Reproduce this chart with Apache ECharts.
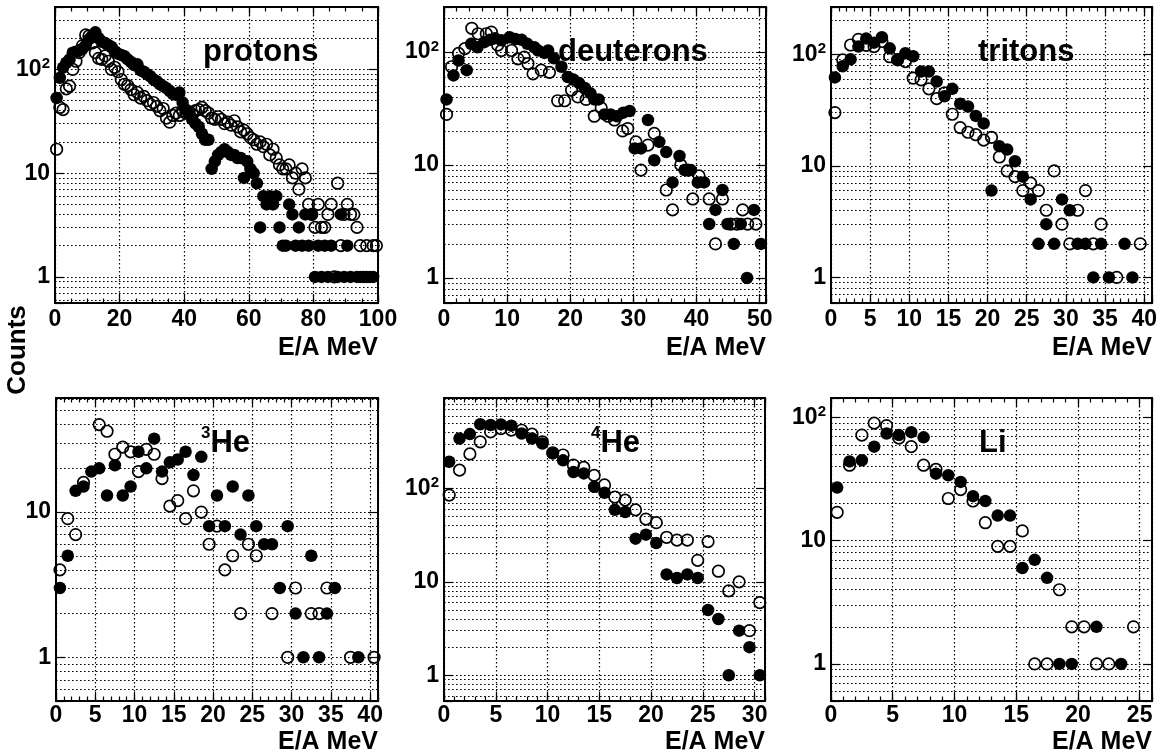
<!DOCTYPE html>
<html><head><meta charset="utf-8">
<script src="https://cdn.jsdelivr.net/npm/echarts@6/dist/echarts.min.js"></script>
<style>html,body{margin:0;padding:0;background:#fff}#c{width:1165px;height:754px}</style>
</head><body><div id="c"></div><script>
// ---------------- DATA (E/A MeV, Counts) ----------------
const protonsFilled = [[0.5,53],[1.5,83],[2.5,104],[3.5,116],[4.5,125],[5.5,145],[6.5,148],[7.5,152],[8.5,158],[9.5,170],[10.5,195],[11.5,210],[12.5,228],[13.5,200],[14.5,185],[15.5,180],[16.5,172],[17.5,165],[18.5,150],[19.5,142],[20.5,138],[21.5,134],[22.5,125],[23.5,118],[24.5,110],[25.5,112],[26.5,98],[27.5,95],[28.5,90],[29.5,86],[30.5,80],[31.5,77],[32.5,72],[33.5,69],[34.5,66],[35.5,62],[36.5,58],[37.5,57],[38.5,60],[39.5,48],[40.5,41],[41.5,38],[42.5,33],[43.5,30],[44.5,28],[45.5,24],[46.5,21],[47.5,21],[48.5,11],[49.5,13],[50.5,15],[51.5,16],[52.5,17],[53.5,16],[54.5,15],[55.5,15],[56.5,14],[57.5,14],[58.5,9],[59.5,13],[60.5,11],[61.5,10],[62.5,8],[63.5,3],[64.5,6],[65.5,5],[66.5,6],[67.5,5],[68.5,6],[69.5,3],[70.5,2],[71.5,2],[72.5,5],[73.5,4],[74.5,2],[75.5,3],[76.5,2],[77.5,4],[78.5,2],[79.5,4],[80.5,1],[81.5,2],[82.5,1],[83.5,2],[84.5,1],[85.5,2],[87.5,1],[88.5,4],[89.5,1],[90.5,2],[91.5,1],[93.5,1],[94.5,1],[95.5,1],[96.5,1],[97.5,1],[98.5,1]];
const protonsOpen = [[0.5,17],[1.5,43],[2.5,41],[3.5,65],[4.5,69],[5.5,100],[6.5,120],[7.5,145],[8.5,170],[9.5,215],[10.5,210],[11.5,180],[12.5,145],[13.5,128],[14.5,125],[15.5,135],[16.5,120],[17.5,100],[18.5,105],[19.5,95],[20.5,80],[21.5,72],[22.5,70],[23.5,64],[24.5,57],[25.5,60],[26.5,53],[27.5,55],[28.5,50],[29.5,46],[30.5,48],[31.5,44],[32.5,40],[33.5,42],[34.5,34],[35.5,31],[36.5,36],[37.5,38],[38.5,36],[39.5,40],[40.5,38],[41.5,39],[42.5,37],[43.5,40],[44.5,41],[45.5,43],[46.5,40],[47.5,38],[48.5,34],[49.5,33],[50.5,35],[51.5,33],[52.5,30],[53.5,31],[54.5,29],[55.5,32],[56.5,28],[57.5,25],[58.5,26],[59.5,24],[60.5,22],[61.5,21],[62.5,19],[63.5,20],[64.5,18],[65.5,19],[66.5,15],[67.5,17],[68.5,14],[69.5,12],[70.5,11],[71.5,11],[72.5,12],[73.5,9],[74.5,10],[75.5,7],[76.5,11],[77.5,9],[78.5,5],[79.5,4],[80.5,3],[81.5,5],[82.5,3],[83.5,3],[84.5,4],[85.5,5],[86.5,1],[87.5,8],[88.5,2],[89.5,4],[90.5,5],[91.5,4],[92.5,4],[93.5,3],[94.5,2],[96.5,2],[98.5,2],[99.5,2]];

const deuteronsFilled = [[0.4,38],[1.5,62],[2.3,84],[3.6,69],[4.3,118],[5.3,110],[6.4,122],[7.3,128],[8.1,132],[9.1,127],[10.4,135],[11.3,130],[12.3,128],[13.2,118],[14.3,110],[14.9,103],[15.9,98],[16.5,103],[17.4,88],[18.6,74],[19.6,60],[20.5,57],[21.4,53],[22.3,48],[23.2,43],[23.8,38],[24.5,38],[25.4,28],[26.4,28],[27.4,27],[28.4,29],[29.4,30],[30.2,14],[31.2,14],[32.3,25],[33.3,11],[34.1,16],[35.2,13],[36.2,7],[37.3,12],[38.1,9],[39.1,9],[40.2,7],[41.2,7],[42,3],[43,4],[44.1,6],[44.9,3],[45.9,2],[47,3],[48,1],[49.1,4],[50.2,2]];
const deuteronsOpen = [[0.4,28],[1.2,74],[2.3,97],[3.3,107],[4.4,162],[5.4,145],[6.7,145],[7.5,150],[8.5,115],[9.1,103],[10.7,103],[11.7,87],[12.7,90],[13.3,79],[14.1,64],[15.4,69],[16.7,66],[18,37],[19.1,37],[20.2,46],[21.2,40],[22.5,38],[23.8,27],[24.9,32],[26,27],[27,25],[28.3,20],[29.1,21],[30.4,16],[31.2,9],[32.3,15],[33.3,19],[35.2,6],[36.2,4],[37.5,10],[38.6,9],[39.4,5],[40.4,8],[42,5],[43,2],[44.1,5],[45.4,3],[46.4,3],[47.3,4],[48.1,3],[49.4,3]];

const tritonsFilled = [[0.5,62],[1.5,78],[2.5,90],[3.5,117],[4.5,138],[5.5,127],[6.5,142],[7.5,113],[8.5,90],[9.5,102],[10.5,96],[11.5,70],[12.5,70],[13.5,57],[14.5,42],[15.5,49],[16.5,36],[17.5,34],[18.5,28],[19.5,24],[20.5,6],[21.5,15],[22.5,14],[23.5,11],[24.5,8],[25.5,5],[26.5,2],[27.5,3],[28.5,2],[29.5,5],[30.5,4],[31.5,2],[32.5,2],[33.5,1],[34.5,2],[35.5,1],[37.5,2],[38.5,1]];
const tritonsOpen = [[0.5,30],[1.5,89],[2.5,121],[3.5,136],[4.5,120],[5.5,117],[6.5,130],[7.5,95],[8.5,89],[9.5,86],[10.5,61],[11.5,59],[12.5,49],[13.5,40],[14.5,45],[15.5,29],[16.5,22],[17.5,20],[18.5,19],[19.5,17],[20.5,18],[21.5,12],[22.5,9],[23.5,8],[24.5,6],[25.5,7],[26.5,6],[27.5,4],[28.5,9],[29.5,3],[30.5,2],[31.5,4],[32.5,6],[33.5,2],[34.5,3],[36.5,1],[39.5,2]];

const he3Filled = [[0.5,3],[1.5,5],[2.5,14],[3.5,15],[4.5,19],[5.5,20],[6.5,13],[7.5,21],[8.5,13],[9.5,15],[10.5,26],[11.5,20],[12.5,32],[13.5,19],[14.5,22],[15.5,23],[16.5,26],[17.5,18],[18.5,24],[19.5,8],[20.5,13],[21.5,8],[22.5,15],[23.5,7],[24.5,13],[25.5,8],[26.5,6],[27.5,6],[28.5,3],[29.5,8],[30.5,2],[31.5,1],[32.5,5],[33.5,1],[34.5,2],[35.5,3],[38.5,1]];
const he3Open = [[0.5,4],[1.5,9],[2.5,7],[3.5,16],[5.5,40],[6.5,36],[7.5,25],[8.5,28],[9.5,26],[10.5,19],[11.5,27],[12.5,25],[13.5,17],[14.5,11],[15.5,12],[16.5,9],[17.5,14],[18.5,10],[19.5,6],[20.5,8],[21.5,4],[22.5,5],[23.5,2],[24.5,6],[25.5,5],[27.5,2],[29.5,1],[30.5,3],[32.5,2],[33.5,2],[34.5,3],[37.5,1],[40.5,1]];

const he4Filled = [[0.5,193],[1.5,343],[2.5,382],[3.5,487],[4.5,478],[5.5,485],[6.5,470],[7.5,388],[8.5,343],[9.5,303],[10.5,237],[11.5,200],[12.5,150],[13.5,145],[14.5,104],[15.5,90],[16.5,59],[17.5,56],[18.5,29],[19.5,32],[20.5,26],[21.5,12],[22.5,11],[23.5,12],[24.5,11],[25.5,5],[26.5,4],[27.5,1],[28.5,3],[29.5,2],[30.5,1]];
const he4Open = [[0.5,85],[1.5,157],[2.5,234],[3.5,316],[4.5,404],[5.5,438],[6.5,422],[7.5,420],[8.5,382],[9.5,316],[10.5,241],[11.5,228],[12.5,178],[13.5,168],[14.5,138],[15.5,109],[16.5,81],[17.5,75],[18.5,59],[19.5,47],[20.5,43],[21.5,30],[22.5,28],[23.5,28],[24.5,17],[25.5,27],[26.5,13],[27.5,8],[28.5,10],[29.5,3],[30.5,6]];

const liFilled = [[0.5,27],[1.5,44],[2.5,45],[3.5,58],[4.5,74],[5.5,72],[6.5,76],[7.5,69],[8.5,35],[9.5,34],[10.5,30],[11.5,23],[12.5,21],[13.5,16],[14.5,16],[15.5,6],[16.5,7],[17.5,5],[18.5,1],[19.5,1],[21.5,2],[23.5,1]];
const liOpen = [[0.5,17],[1.5,41],[2.5,72],[3.5,90],[4.5,86],[5.5,68],[6.5,58],[7.5,41],[8.5,38],[9.5,22],[10.5,26],[11.5,21],[12.5,14],[13.5,9],[14.5,9],[15.5,12],[16.5,1],[17.5,1],[18.5,4],[19.5,2],[20.5,2],[21.5,1],[22.5,1],[24.5,2]];

// axis ranges / tick steps
const xRanges = [100, 51, 41, 41, 31, 26];
const xMajorSteps = [20, 10, 5, 5, 5, 5];
const xMinorSteps = [5, 2, 1, 1, 1, 1];
const yRanges = [[0.56,400],[0.6,250],[0.59,265],[0.5,61],[0.53,930],[0.5,144]];
const xTitle = 'E/A MeV';
const yTitle = 'Counts';

// ---------------- LAYOUT ----------------
const FONT = '"Liberation Sans", Arial, Helvetica, sans-serif';
const boxes = [[55,7,323,296],[444,7,322,296],[831,7,321,296],[56,398,322,303],[444,398,321,303],[831,398,321,303]];
const labelMargins = [5,5,5,3,3,3];
const seriesPairs = [[protonsFilled,protonsOpen],[deuteronsFilled,deuteronsOpen],[tritonsFilled,tritonsOpen],[he3Filled,he3Open],[he4Filled,he4Open],[liFilled,liOpen]];

const dotted = {color:'#000', width:1.2, type:[1.6,2.4], opacity:1};
const tickStyle = {color:'#000', width:1.2};

function gridValues(lo, hi) {
  const out = [];
  for (let k = Math.floor(Math.log10(lo)); k <= Math.ceil(Math.log10(hi)); k++) {
    for (let m = 1; m <= 9; m++) {
      const v = m * Math.pow(10, k);
      if (v > lo * 1.0001 && v < hi * 0.9999) out.push({yAxis: v});
    }
  }
  return out;
}

const grids = [], xAxes = [], yAxes = [], series = [];
boxes.forEach((b, i) => {
  grids.push({left:b[0], top:b[1], width:b[2], height:b[3], show:true, borderColor:'#000', borderWidth:2, backgroundColor:'rgba(0,0,0,0)'});
  const xMax = xRanges[i], maj = xMajorSteps[i], mnr = xMinorSteps[i];
  const base = {type:'value', gridIndex:i, min:0, max:xMax, axisLine:{show:false, onZero:false}, splitLine:{show:false}, axisLabel:{show:false}};
  const xi = xAxes.length;
  xAxes.push(Object.assign({}, base, {position:'bottom', interval:maj,
    axisTick:{show:true, inside:true, length:9, lineStyle:tickStyle},
    splitLine:{show:true, lineStyle:dotted},
    axisLabel:{show:true, showMinLabel:true, showMaxLabel:true, margin:labelMargins[i], color:'#000', fontFamily:FONT, fontWeight:'bold', fontSize:23, lineHeight:23,
      formatter: v => (Math.abs(v/maj - Math.round(v/maj)) < 1e-9 ? String(v) : '')}}));
  xAxes.push(Object.assign({}, base, {position:'bottom', interval:mnr, axisTick:{show:true, inside:true, length:4.5, lineStyle:tickStyle}}));
  xAxes.push(Object.assign({}, base, {position:'top', interval:maj, axisTick:{show:true, inside:true, length:9, lineStyle:tickStyle}}));
  xAxes.push(Object.assign({}, base, {position:'top', interval:mnr, axisTick:{show:true, inside:true, length:4.5, lineStyle:tickStyle}}));

  const [ylo, yhi] = yRanges[i];
  const yi = yAxes.length;
  yAxes.push({type:'log', logBase:10, gridIndex:i, min:ylo, max:yhi, position:'left',
    axisLine:{show:false, onZero:false}, splitLine:{show:false},
    axisTick:{show:true, inside:true, length:9, lineStyle:tickStyle},
    axisLabel:{show:true, margin:5, showMinLabel:true, showMaxLabel:true,
      formatter: v => {
        const l = Math.log10(v), r = Math.round(l);
        if (Math.abs(l - r) > 1e-6) return '';
        if (r === 0) return '{b|1}';
        if (r === 1) return '{b|10}';
        return '{b|10}{s|' + r + '}';
      },
      rich:{
        b:{fontFamily:FONT, fontWeight:'bold', fontSize:23, lineHeight:26, color:'#000'},
        s:{fontFamily:FONT, fontWeight:'bold', fontSize:15, lineHeight:15, color:'#000', verticalAlign:'top'}
      }}});
  yAxes.push({type:'log', logBase:10, gridIndex:i, min:ylo, max:yhi, position:'right',
    axisLine:{show:false, onZero:false}, splitLine:{show:false},
    axisTick:{show:true, inside:true, length:9, lineStyle:tickStyle}, axisLabel:{show:false}});

  const [filled, open] = seriesPairs[i];
  series.push({type:'scatter', xAxisIndex:xi, yAxisIndex:yi, data:open, symbol:'circle', symbolSize:11.5,
    itemStyle:{color:'rgba(0,0,0,0)', borderColor:'#000', borderWidth:1.7, opacity:1}, clip:false, z:3, silent:true,
    markLine:{silent:true, z:1, symbol:['none','none'], label:{show:false}, lineStyle:dotted, animation:false,
      emphasis:{disabled:true}, data:gridValues(ylo, yhi)}});
  series.push({type:'scatter', xAxisIndex:xi, yAxisIndex:yi, data:filled, symbol:'circle', symbolSize:12.5,
    itemStyle:{color:'#000', opacity:1}, clip:false, z:4, silent:true});
});

const titleFont = {fontFamily:FONT, fontWeight:'bold', fontSize:31, fill:'#000'};
const graphics = [
  {type:'text', x:203, y:37, style:Object.assign({text:'protons', lineHeight:31, verticalAlign:'top'}, titleFont)},
  {type:'text', x:558, y:37, style:Object.assign({text:'deuterons', lineHeight:31, verticalAlign:'top'}, titleFont)},
  {type:'text', x:978, y:37, style:Object.assign({text:'tritons', lineHeight:31, verticalAlign:'top'}, titleFont)},
  {type:'text', x:201, y:425, style:{text:'{s|3}{b|He}', verticalAlign:'top', rich:{
    s:Object.assign({}, titleFont, {fontSize:17, lineHeight:17, verticalAlign:'top'}),
    b:Object.assign({}, titleFont, {lineHeight:36})}}},
  {type:'text', x:591, y:425, style:{text:'{s|4}{b|He}', verticalAlign:'top', rich:{
    s:Object.assign({}, titleFont, {fontSize:17, lineHeight:17, verticalAlign:'top'}),
    b:Object.assign({}, titleFont, {lineHeight:36})}}},
  {type:'text', x:979, y:428, style:Object.assign({text:'Li', lineHeight:31, verticalAlign:'top'}, titleFont)},
  {type:'text', x:18, y:350, rotation:Math.PI/2, style:{text:yTitle, fontFamily:FONT, fontWeight:'bold', fontSize:26, fill:'#000', align:'center', verticalAlign:'middle'}}
];
boxes.forEach((b, i) => {
  graphics.push({type:'text', x:b[0]+b[2], y:(i < 3 ? 336 : 730), style:{text:xTitle, fontFamily:FONT, fontWeight:'bold', fontSize:25, lineHeight:25, fill:'#000', align:'right', verticalAlign:'top'}});
});

const chart = echarts.init(document.getElementById('c'), null, {renderer:'canvas'});
chart.setOption({
  animation:false,
  backgroundColor:'#fff',
  grid:grids, xAxis:xAxes, yAxis:yAxes, series:series, graphic:graphics
});
</script></body></html>
